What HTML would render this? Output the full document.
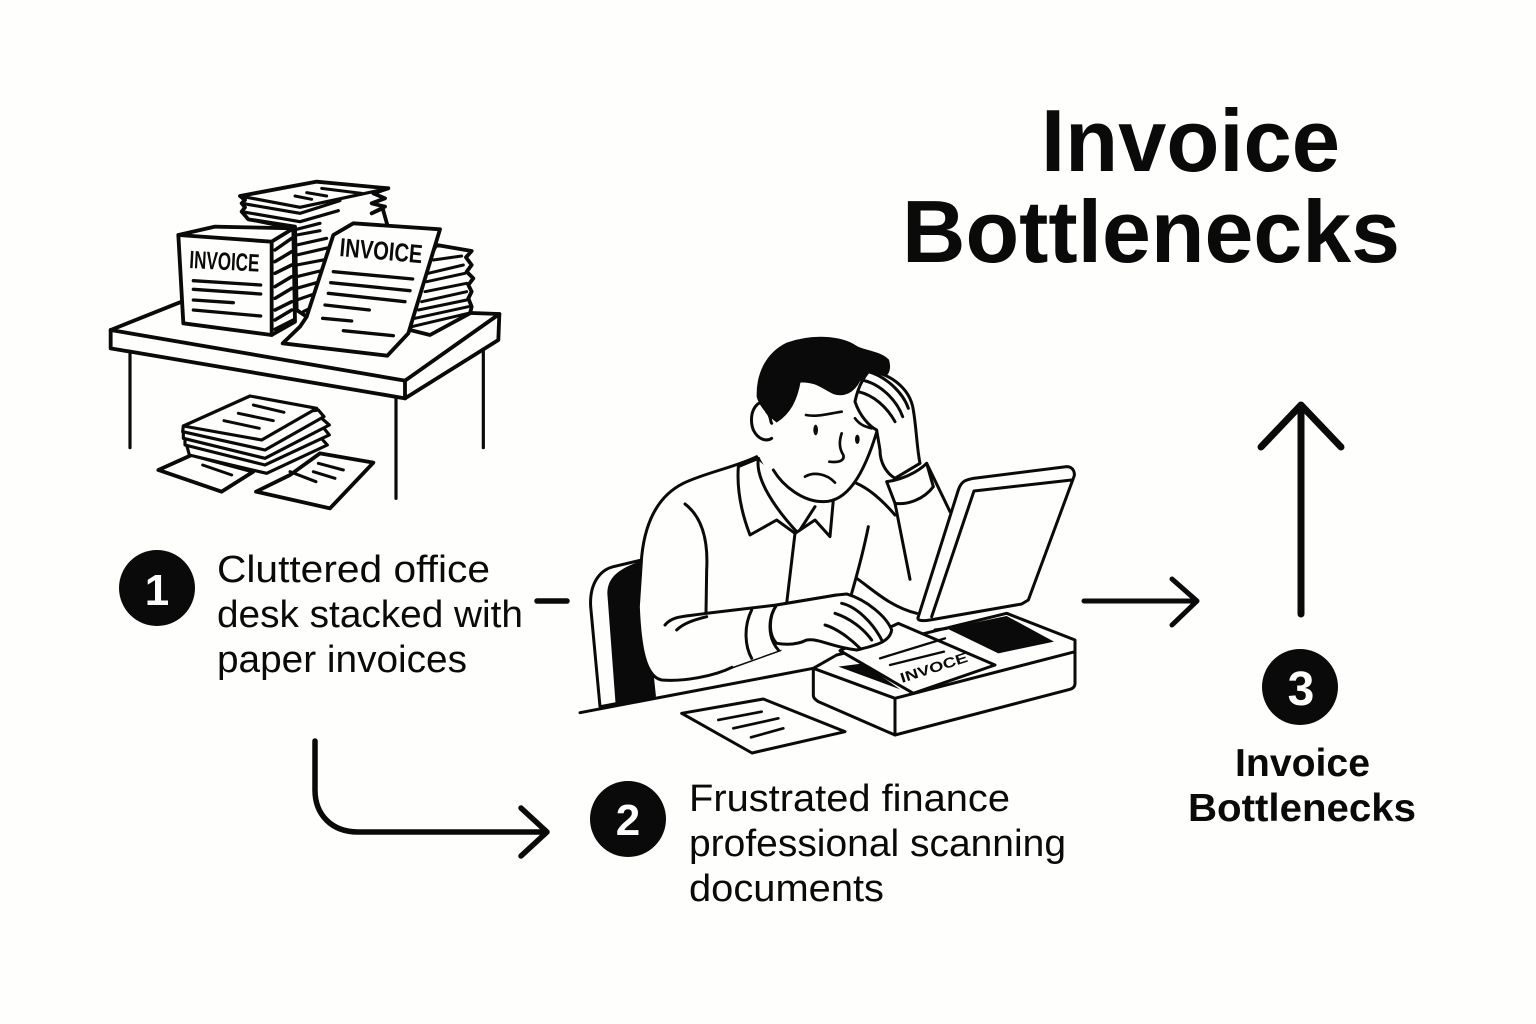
<!DOCTYPE html>
<html><head><meta charset="utf-8"><style>
html,body{margin:0;padding:0;background:#fefefc}
svg{display:block}
text{font-family:"Liberation Sans",sans-serif;fill:#0a0a0a}
.b{font-weight:700}
.i{fill:none;stroke:#0a0a0a;stroke-linecap:round;stroke-linejoin:round}
.f{fill:#fefefc}
.k{fill:#0a0a0a}
</style></head><body>
<svg width="1536" height="1024" viewBox="0 0 1536 1024" xmlns="http://www.w3.org/2000/svg">
<rect width="1536" height="1024" fill="#fefefc"/>

<!-- desk illustration -->
<g class="i" transform="translate(100 170) scale(.33333)" stroke-width="11.5">
<path d="M90,545V833M888,685V985M1150,520V833" stroke-width="9.5"/>
<path class="f" d="M32,480L240,397L1198,432L1195,510L915,685L32,535Z"/>
<path d="M32,480L915,632L1198,432M915,632V685"/>
<!-- back pile -->
<path class="f" d="M420,78L650,35L865,55L820,70L855,85L815,100L855,110L815,130L848,115L862,165L700,300L620,440L590,420L585,170L445,148L425,125L435,112L425,100L435,90Z"/>
<path d="M420,78L600,112L865,55M425,100L600,130L720,92M425,125L600,155L715,122M445,148L590,178L660,160M590,195L660,182M590,225L680,205M590,255L690,232M590,285L680,268M590,320L672,300M590,355L660,335M590,390L648,370M610,425L640,410" stroke-width="9.5"/>
<path d="M665,55L785,70M620,68L680,78M585,78L635,88" stroke-width="9"/>
<!-- right pile -->
<path class="f" d="M1010,225L1115,243L1098,262L1115,285L1100,305L1120,325L1105,345L1115,365L1105,385L1115,410L1110,430L990,495L930,480L960,300Z"/>
<path d="M1000,270L1085,258M985,310L1090,285M980,335L1095,310M975,365L1100,340M965,395L1100,365M955,420L1100,390M945,445L1105,410M935,470L1105,430" stroke-width="9"/>
<!-- box -->
<path class="f" d="M235,195L345,170L580,175L585,455L515,495L250,460Z"/>
<path d="M235,195L515,215L580,175M515,215V495"/>
<path d="M525,240L575,205M525,275L575,245M525,310L575,285M525,350L575,320M525,385L575,355M525,420L575,395M525,450L575,420M525,478L580,450" stroke-width="10.5"/>
<path d="M280,332L482,345M280,358L482,372M280,390L400,398M280,420L482,438" stroke-width="10"/>
<!-- page -->
<path class="f" d="M760,160L1020,178L925,490L862,557L548,520L600,470L620,440L700,195Z"/>
<path d="M700,305L938,327M692,338L930,362M685,370L915,395M675,405L808,420M668,445L755,453M730,482L880,497" stroke-width="10"/>
<!-- under pile -->
<path class="f" d="M660,850L820,878L690,1015L468,965L570,915Z"/>
<path d="M655,880L730,900M640,905L705,925M570,905L648,935" stroke-width="9"/>
<path class="f" d="M175,900L275,855L460,905L365,965Z"/>
<path d="M308,885L395,915" stroke-width="9"/>
<path class="f" d="M268,855L500,910L682,825L655,795L260,825Z" stroke-width="9.5"/>
<path class="f" d="M255,825L495,885L688,795L660,760L255,800Z" stroke-width="9.5"/>
<path class="f" d="M250,805L495,865L688,765L665,745L250,785Z" stroke-width="9.5"/>
<path class="f" d="M248,785L495,840L672,740L655,720L250,768Z" stroke-width="9.5"/>
<path class="f" d="M250,768L450,678L650,715L485,810Z" stroke-width="9.5"/>
<path d="M460,705L552,727M415,730L520,752M372,752L478,775" stroke-width="9"/>
</g>
<text class="b" transform="translate(189 268) rotate(3)" font-size="25" textLength="70" lengthAdjust="spacingAndGlyphs">INVOICE</text>
<text class="b" transform="translate(339 256) rotate(5)" font-size="26" textLength="83" lengthAdjust="spacingAndGlyphs">INVOICE</text>

<!-- person illustration -->
<g class="i" transform="translate(570 330) scale(.33333)" stroke-width="9">
<!-- chair -->
<path class="f" d="M90,1130L62,830C58,760 90,720 130,710L215,690L250,1100Z"/>
<path class="k" stroke="none" d="M112,790C112,740 150,715 215,692L258,1100L137,1125Z"/>
<path d="M30,1148L730,1015"/>
<!-- torso -->
<path class="f" d="M560,380C500,410 400,430 340,460C260,500 225,580 215,680L205,830C210,950 225,1040 275,1050C340,1055 430,1040 490,1010L630,960L850,780L1040,850L1140,560L1070,400L860,400L700,500Z" stroke="none"/>
<path d="M560,380C500,410 400,430 340,460C260,500 225,580 215,680L205,830C210,950 225,1040 275,1050C340,1055 430,1040 490,1010L630,960"/>
<path d="M860,460C905,480 945,520 975,555"/>
<path d="M1070,400L1140,545M975,520L1020,748"/>
<path d="M345,522C395,560 415,630 410,720L408,850"/>
<path d="M675,610L650,820M895,590C885,640 865,720 845,790M860,745C910,780 960,830 1040,850"/>
<!-- collar -->
<path class="f" d="M565,385L505,410C500,480 515,550 540,615L620,570L675,610L735,570L780,620L790,510L700,500Z"/>
<path d="M565,385C555,450 620,540 680,605M735,530L690,600"/>
<!-- ear + face -->
<path class="f" d="M600,215C550,205 535,260 550,300C565,330 590,335 605,325L570,385C620,480 700,515 760,515C830,515 880,440 925,300L900,120L650,100Z" stroke="none"/>
<path class="f" d="M600,215C550,205 535,260 550,300C565,330 590,335 605,325"/>
<path d="M590,245C605,260 600,275 605,280"/>
<path d="M610,420C640,470 700,515 760,515C830,515 880,440 922,300"/>
<path class="k" stroke-width="4" d="M620,275C600,260 570,230 562,200C560,130 590,70 650,40C720,15 810,15 860,50C890,65 930,65 955,90C965,120 950,150 930,130L870,150C850,190 820,200 790,190C750,170 740,155 690,155C680,210 660,250 620,275Z"/>
<path d="M708,255C740,262 780,250 815,245M855,265C870,285 885,290 905,295" stroke-width="8"/>
<ellipse class="k" cx="737" cy="300" rx="7" ry="16" stroke="none"/>
<ellipse class="k" cx="862" cy="328" rx="7" ry="14" stroke="none"/>
<path d="M815,310C805,340 810,360 820,375C825,395 800,398 778,395M705,440C730,425 770,430 795,458" stroke-width="8"/>
<!-- hand on head -->
<path class="f" d="M895,125C950,125 1020,170 1030,240C1040,300 1040,350 1050,400L975,445C950,430 930,400 930,360L920,300C900,290 870,260 855,215C862,180 875,150 895,125Z" />
<path d="M895,125C950,140 1000,190 1015,235M875,150C930,160 980,210 998,260M865,185C910,195 950,230 975,275"/>
<path class="f" d="M950,455C990,450 1040,430 1070,400L1090,470C1060,510 1010,525 975,520Z"/>
<!-- scanner -->
<path class="f" d="M730,1015L800,975L1310,850L1515,930L1515,1060C1515,1070 1510,1075 1500,1078L975,1215L745,1115C730,1105 730,1100 730,1095Z"/>
<path d="M730,1015L975,1105L1515,965M975,1105V1215"/>
<path class="k" stroke="none" d="M1130,895L1310,858L1452,935L1285,970Z"/>
<path class="f" d="M1045,860L1165,480C1175,450 1190,450 1210,445L1490,410C1510,410 1518,430 1510,445L1375,810L1355,822L1080,870C1050,875 1040,870 1045,860Z"/>
<path d="M1505,450L1212,483L1085,860"/>
<path d="M1095,900L1130,895"/>
<path class="f" d="M810,962L985,880L1275,1005L1030,1090Z"/>
<path class="k" stroke="none" d="M805,1010L880,1000L990,1078Z"/>
<path d="M930,985L1125,925M960,1005L1122,965" stroke-width="7"/>
<!-- arm + hand (over the paper) -->
<path class="f" d="M285,885C310,855 350,860 408,850L620,825L800,795L845,900L630,960L490,1010L400,930C370,875 340,880 320,900" stroke="none"/>
<path d="M285,885C310,855 350,860 408,850L620,825L800,795M320,900C340,880 370,870 410,860"/>
<path d="M545,840C520,890 525,950 545,985M620,825C595,860 590,920 625,960"/>
<path class="f" d="M620,940C650,945 680,945 710,930C750,925 780,950 860,960C900,950 960,940 965,900C950,860 890,810 830,792L800,795L620,825C595,860 595,915 620,940Z"/>
<path d="M815,820C860,830 910,880 935,930M795,850C840,865 880,895 905,930M765,885C800,895 840,925 870,955"/>
<!-- document -->
<path class="f" d="M335,1150L580,1107L825,1205L546,1269Z"/>
<path d="M445,1170L575,1145M490,1195L625,1165M543,1222L640,1195" stroke-width="8"/>
</g>
<text class="b" transform="translate(902 683) rotate(-18)" font-size="14" textLength="70" lengthAdjust="spacingAndGlyphs">INVOCE</text>

<!-- connectors -->
<g class="i">
<path d="M537,601H567" stroke-width="5.5"/>
<path d="M315,741V790C315,815 332,832 358,832H546M521,808L547,832L521,856" stroke-width="5.5"/>
<path d="M1084,601H1196M1172,579L1197,601L1172,625" stroke-width="5"/>
<path d="M1301,614V405M1261,447L1301,405L1341,447" stroke-width="7"/>
</g>

<!-- badges -->
<circle cx="157" cy="588" r="38" class="k"/>
<circle cx="628" cy="819" r="38" class="k"/>
<circle cx="1300" cy="687" r="38" class="k"/>
<text class="b" x="157" y="605" font-size="44" text-anchor="middle" style="fill:#fefefc">1</text>
<text class="b" x="628" y="835" font-size="44" text-anchor="middle" style="fill:#fefefc">2</text>
<text class="b" x="1301" y="705" font-size="48" text-anchor="middle" style="fill:#fefefc">3</text>

<!-- labels -->
<g font-size="38">
<text x="217" y="582" textLength="273" lengthAdjust="spacingAndGlyphs">Cluttered office</text>
<text x="217" y="627" textLength="306" lengthAdjust="spacingAndGlyphs">desk stacked with</text>
<text x="217" y="672" textLength="250" lengthAdjust="spacingAndGlyphs">paper invoices</text>
<text x="689" y="811" textLength="321" lengthAdjust="spacingAndGlyphs">Frustrated finance</text>
<text x="689" y="856" textLength="377" lengthAdjust="spacingAndGlyphs">professional scanning</text>
<text x="689" y="901" textLength="195" lengthAdjust="spacingAndGlyphs">documents</text>
</g>
<text class="b" x="1235" y="776" font-size="39" textLength="135" lengthAdjust="spacingAndGlyphs">Invoice</text>
<text class="b" x="1188" y="821" font-size="39" textLength="228" lengthAdjust="spacingAndGlyphs">Bottlenecks</text>

<text class="b" x="1041" y="171" font-size="88" textLength="299" lengthAdjust="spacingAndGlyphs">Invoice</text>
<text class="b" x="902" y="262" font-size="88" textLength="498" lengthAdjust="spacingAndGlyphs">Bottlenecks</text>
</svg>
</body></html>
